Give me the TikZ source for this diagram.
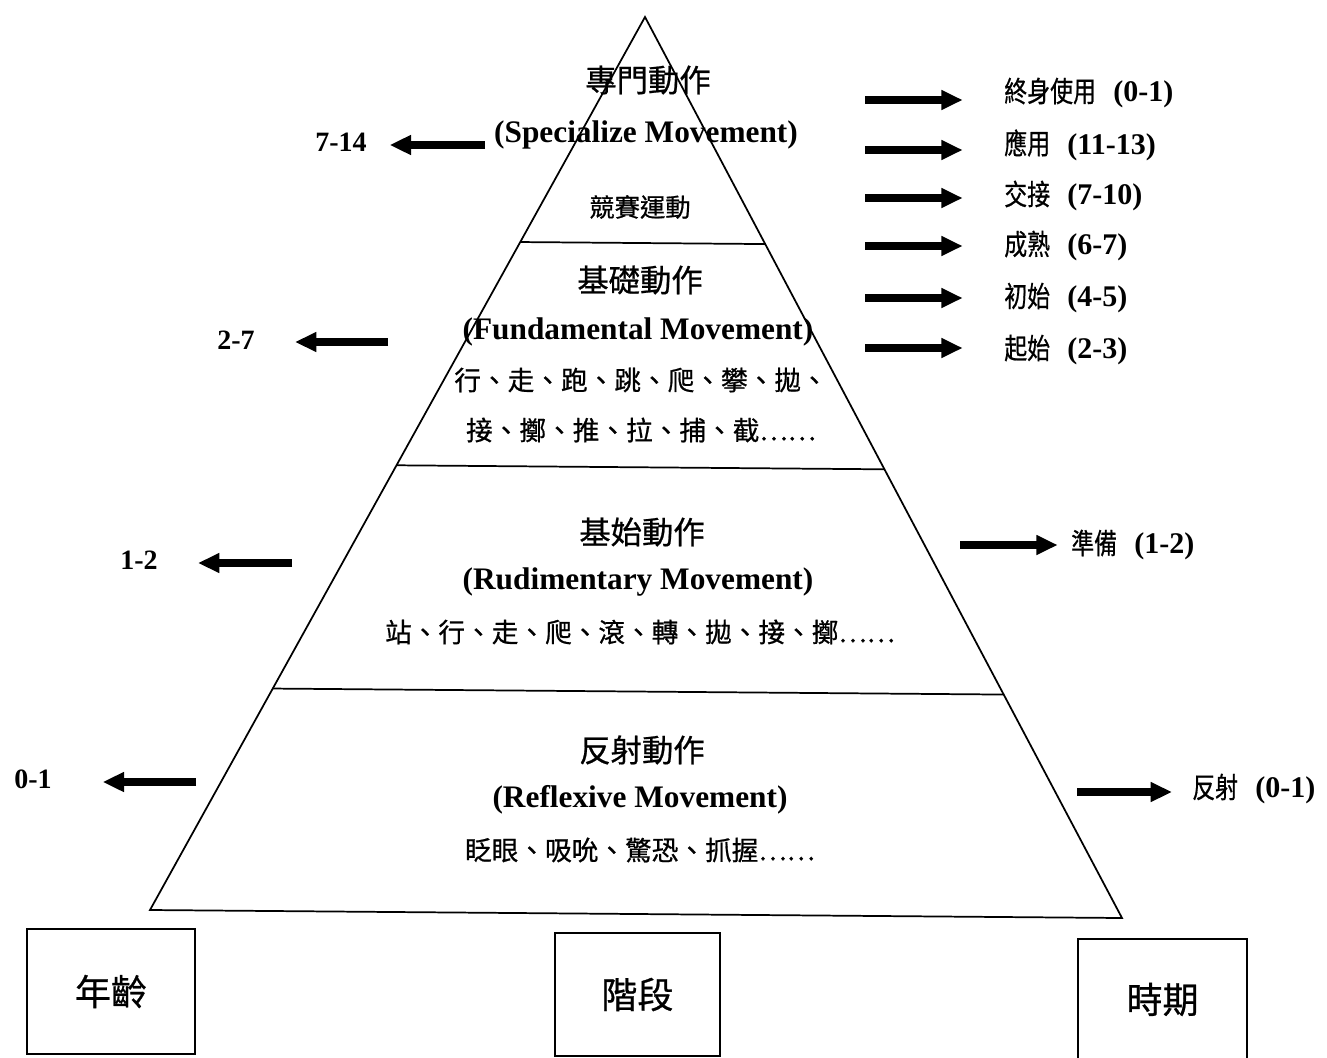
\documentclass[tikz,border=0pt]{standalone}
\usepackage{fontspec}
\usepackage{graphicx}
\setmainfont{Liberation Serif}
\newfontfamily\cjk[FakeBold=0.7]{Noto Sans CJK TC}
\usetikzlibrary{arrows.meta,calc}
\newcommand{\rlab}[2]{\scalebox{0.8}[1]{\cjk\fontsize{21.5}{24}\selectfont #1}\hspace{13pt}\textbf{#2}}
\begin{document}
\begin{tikzpicture}[x=0.75pt,y=-0.75pt,
  edge/.style={line width=1.3pt},
  fat/.style={line width=5.3pt,-{Triangle[length=16pt,width=14pt]}},
  ttl/.style={inner sep=0pt,font=\cjk\fontsize{23.5}{28}\selectfont},
  sub/.style={inner sep=0pt,font=\cjk\fontsize{19}{23}\selectfont},
  eng/.style={inner sep=0pt,font=\bfseries\fontsize{23.5}{28}\selectfont},
  row/.style={inner sep=0pt,font=\cjk\fontsize{20}{24}\selectfont},
  lab/.style={inner sep=0pt,anchor=west,font=\fontsize{22.5}{25}\selectfont},
  age/.style={inner sep=0pt,anchor=east,font=\bfseries\fontsize{21}{25}\selectfont},
  boxn/.style={draw,line width=1.5pt,inner sep=0pt,font=\cjk\fontsize{27}{32}\selectfont}
]
\useasboundingbox (0,0) rectangle (1327,1057);
% pyramid
\coordinate (A) at (645,17);
\coordinate (BL) at (150,910);
\coordinate (BR) at (1122,918);
\draw[edge,line join=miter] (A) -- (BL) -- (BR) -- cycle;
\foreach \t/\n in {0.252/1,0.502/2,0.752/3}{
  \coordinate (dl\n) at ($(A)!\t!(BL)$);
  \coordinate (dr\n) at ($(A)!\t!(BR)$);
  \draw[edge] (dl\n) -- (dr\n);
}
% texts inside pyramid
\node[ttl] (t1) at (648,80) {專門動作};
\node[eng] (e1) at (646,135) {(Specialize Movement)};
\node[sub] (s1) at (640,207) {競賽運動};
\node[ttl] (t2) at (640,280) {基礎動作};
\node[eng] (e2) at (638,332) {(Fundamental Movement)};
\node[row] (r2a) at (641,380) {行、走、跑、跳、爬、攀、拋、};
\node[row] (r2b) at (641,430) {接、擲、推、拉、捕、截……};
\node[ttl] (t3) at (642,532) {基始動作};
\node[eng] (e3) at (638,582) {(Rudimentary Movement)};
\node[row] (r3) at (640,632) {站、行、走、爬、滾、轉、拋、接、擲……};
\node[ttl] (t4) at (642,750) {反射動作};
\node[eng] (e4) at (640,800) {(Reflexive Movement)};
\node[row] (r4) at (640,850) {眨眼、吸吮、驚恐、抓握……};
% ages (left)
\node[age] (a1) at (367,142) {7-14};
\node[age] (a2) at (255,340) {2-7};
\node[age] (a3) at (158,560) {1-2};
\node[age] (a4) at (52,779) {0-1};
\coordinate (la1) at (485,145);
\coordinate (la2) at (388,342);
\coordinate (la3) at (292,563);
\coordinate (la4) at (196,782);
\draw[fat,shorten >=17pt] (la1) -- (la1 -| a1.east);
\draw[fat,shorten >=30pt] (la2) -- (la2 -| a2.east);
\draw[fat,shorten >=30pt] (la3) -- (la3 -| a3.east);
\draw[fat,shorten >=38pt] (la4) -- (la4 -| a4.east);
% periods (right)
\node[lab] (p1) at (1004,93) {\rlab{終身使用}{(0-1)}};
\node[lab] (p2) at (1004,145) {\rlab{應用}{(11-13)}};
\node[lab] (p3) at (1004,196) {\rlab{交接}{(7-10)}};
\node[lab] (p4) at (1004,246) {\rlab{成熟}{(6-7)}};
\node[lab] (p5) at (1004,298) {\rlab{初始}{(4-5)}};
\node[lab] (p6) at (1004,350) {\rlab{起始}{(2-3)}};
\node[lab] (p7) at (1071,545) {\rlab{準備}{(1-2)}};
\node[lab] (p8) at (1192,789) {\rlab{反射}{(0-1)}};
\coordinate (rp1) at (865,100);
\coordinate (rp2) at (865,150);
\coordinate (rp3) at (865,198);
\coordinate (rp4) at (865,246);
\coordinate (rp5) at (865,298);
\coordinate (rp6) at (865,348);
\coordinate (rp7) at (960,545);
\coordinate (rp8) at (1077,792);
\foreach \i in {1,...,6}{
  \draw[fat,shorten >=31pt] (rp\i) -- (rp\i -| p\i.west);
}
\draw[fat,shorten >=10pt] (rp7) -- (rp7 -| p7.west);
\draw[fat,shorten >=15pt] (rp8) -- (rp8 -| p8.west);
% bottom boxes
\node[boxn,minimum width=126pt,minimum height=94pt] (bage) at (111,991.5) {年齡};
\node[boxn,minimum width=124pt,minimum height=92pt] (bstage) at (637.5,994.5) {階段};
\node[boxn,minimum width=127pt,minimum height=91pt] (bperiod) at (1162.5,999.5) {時期};
\end{tikzpicture}
\end{document}
